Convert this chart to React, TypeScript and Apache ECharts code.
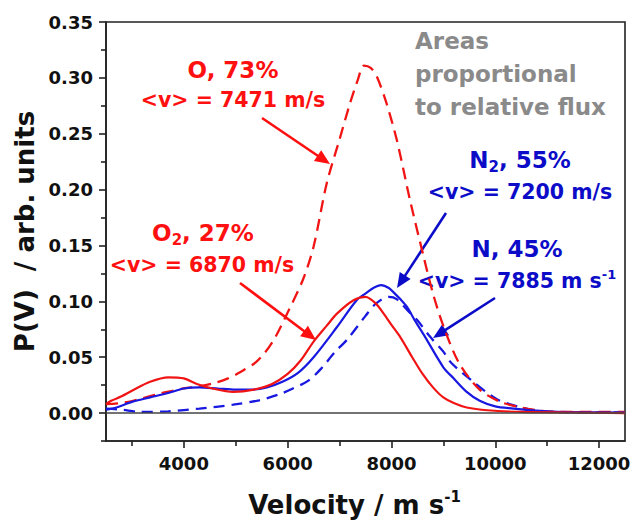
import React, { useEffect, useRef } from "react";
import * as echarts from "echarts";

// ---- data ----
const oVel = [2500, 2800, 3100, 3500, 3800, 4000, 4300, 4600, 4850, 5100, 5400, 5700, 6000, 6300, 6500, 6750, 7000, 7200, 7350, 7470, 7600, 7720, 7900, 8100, 8230, 8360, 8620, 8800, 9000, 9300, 9700, 10100, 10500, 10900, 11500, 12500];
const oVal = [0.008, 0.009, 0.012, 0.017, 0.02, 0.022, 0.024, 0.027, 0.031, 0.037, 0.046, 0.063, 0.09, 0.12, 0.149, 0.205, 0.245, 0.277, 0.298, 0.311, 0.309, 0.301, 0.278, 0.245, 0.218, 0.19, 0.14, 0.107, 0.078, 0.045, 0.021, 0.01, 0.005, 0.002, 0.001, 0.001];

const o2Vel = [2500, 2600, 2800, 3000, 3350, 3700, 4000, 4250, 4550, 4950, 5350, 5700, 6000, 6250, 6500, 6750, 6950, 7270, 7500, 7700, 7850, 8000, 8170, 8400, 8600, 8800, 9000, 9200, 9450, 9850, 10500, 11500, 12500];
const o2Val = [0.008, 0.011, 0.015, 0.02, 0.028, 0.032, 0.031, 0.026, 0.022, 0.019, 0.021, 0.026, 0.035, 0.047, 0.064, 0.078, 0.089, 0.101, 0.104, 0.098, 0.089, 0.079, 0.068, 0.05, 0.035, 0.023, 0.014, 0.009, 0.005, 0.0025, 0.001, 0.0005, 0];

const n2Vel = [2500, 2700, 3000, 3350, 3700, 4000, 4300, 4650, 5000, 5300, 5600, 5900, 6200, 6500, 6950, 7330, 7530, 7650, 7800, 7950, 8040, 8170, 8300, 8450, 8650, 9000, 9200, 9450, 9700, 10000, 10350, 10700, 11200, 12500];
const n2Val = [0.003, 0.005, 0.01, 0.014, 0.018, 0.022, 0.023, 0.022, 0.021, 0.021, 0.023, 0.028, 0.036, 0.05, 0.077, 0.101, 0.108, 0.112, 0.1145, 0.112, 0.108, 0.102, 0.095, 0.083, 0.068, 0.041, 0.031, 0.019, 0.011, 0.006, 0.004, 0.0024, 0.001, 0.0005];

const nVel = [2500, 2800, 3150, 3700, 4300, 4950, 5450, 5850, 6100, 6400, 6650, 6900, 7150, 7500, 7700, 7950, 8100, 8350, 8500, 8750, 9000, 9150, 9550, 10050, 10600, 11000, 12500];
const nVal = [0.004, 0.003, 0.001, 0.0015, 0.004, 0.0075, 0.0114, 0.017, 0.022, 0.029, 0.04, 0.054, 0.066, 0.087, 0.098, 0.104, 0.102, 0.09, 0.083, 0.068, 0.055, 0.045, 0.029, 0.012, 0.004, 0.001, 0.0005];

const xMajor = [4000, 6000, 8000, 10000, 12000];
const xMinor = [3000, 5000, 7000, 9000, 11000];
const yMajor = [0, 0.05, 0.1, 0.15, 0.2, 0.25, 0.3, 0.35];
const yMinor = [-0.025, 0.025, 0.075, 0.125, 0.175, 0.225, 0.275, 0.325];

const FONT = "'DejaVu Sans', 'Liberation Sans', Arial, sans-serif";
const RED_LINE = "#f01414";
const BLUE_LINE = "#1818e0";
const RED_TXT = "#ff1010";
const BLUE_TXT = "#0c0cc8";
const GRAY_TXT = "#8a8a8a";

const pairs = (xs: number[], ys: number[]) => xs.map((x, i) => [x, ys[i]]);

function arrow(x1: number, y1: number, x2: number, y2: number, color: string) {
  const dx = x2 - x1;
  const dy = y2 - y1;
  const len = Math.sqrt(dx * dx + dy * dy);
  const ux = dx / len;
  const uy = dy / len;
  const hl = 15;
  const hw = 6.5;
  const bx = x2 - ux * hl;
  const by = y2 - uy * hl;
  return [
    {
      type: "line",
      shape: { x1, y1, x2: bx + ux * 2, y2: by + uy * 2 },
      style: { stroke: color, lineWidth: 2.6 },
      silent: true,
    },
    {
      type: "polygon",
      shape: {
        points: [
          [x2, y2],
          [bx - uy * hw, by + ux * hw],
          [bx + uy * hw, by - ux * hw],
        ],
      },
      style: { fill: color },
      silent: true,
    },
  ];
}

function label(x: number, y: number, text: string, color: string, size: number, extra: any = {}) {
  return {
    type: "text",
    x,
    y,
    silent: true,
    style: {
      text,
      fill: color,
      fontSize: size,
      fontWeight: "bold",
      fontFamily: FONT,
      align: "center",
      verticalAlign: "middle",
      lineHeight: size + 6,
      rich: {
        sub: { fontSize: 15, fontWeight: "bold", fontFamily: FONT, fill: color, verticalAlign: "bottom", lineHeight: size + 6 },
        sup: { fontSize: 13, fontWeight: "bold", fontFamily: FONT, fill: color, verticalAlign: "top", lineHeight: size + 6 },
      },
      ...extra,
    },
  };
}

export default function App() {
  const ref = useRef<HTMLDivElement>(null);
  useEffect(() => {
    if (!ref.current) return;
    const chart = echarts.init(ref.current, null, { renderer: "svg" });
    const axisLineStyle = { color: "#222", width: 1.6 };
    const tickLabel = { fontSize: 18, fontWeight: "bold", fontFamily: FONT, color: "#111" };
    chart.setOption({
      animation: false,
      backgroundColor: "#fff",
      grid: {
        left: 106,
        right: 9,
        top: 22,
        bottom: 82,
        outerBoundsMode: "none",
        containLabel: false,
        show: true,
        borderColor: "#222",
        borderWidth: 1.6,
        backgroundColor: "transparent",
      },
      xAxis: [
        {
          type: "value",
          min: 2500,
          max: 12500,
          position: "bottom",
          axisLine: { show: true, onZero: false, lineStyle: axisLineStyle },
          axisTick: { show: true, length: 7, customValues: xMajor, lineStyle: { color: "#222", width: 1.6 } },
          axisLabel: { customValues: xMajor, margin: 13, formatter: (v: number) => String(v), ...tickLabel },
          splitLine: { show: false },
          name: "Velocity / m s{sup|-1}",
          nameLocation: "middle",
          nameGap: 48,
          nameTextStyle: {
            fontSize: 26,
            fontWeight: "bold",
            fontFamily: FONT,
            color: "#111",
            lineHeight: 32,
            padding: [0, 22, 0, 0],
            rich: { sup: { fontSize: 15, fontWeight: "bold", fontFamily: FONT, color: "#111", verticalAlign: "top", lineHeight: 32 } },
          },
        },
        {
          type: "value",
          min: 2500,
          max: 12500,
          position: "bottom",
          axisLine: { show: false, onZero: false },
          axisTick: { show: true, length: 5, customValues: xMinor, lineStyle: { color: "#222", width: 1.6 } },
          axisLabel: { show: false },
          splitLine: { show: false },
        },
      ],
      yAxis: [
        {
          type: "value",
          min: -0.025,
          max: 0.35,
          position: "left",
          axisLine: { show: true, onZero: false, lineStyle: axisLineStyle },
          axisTick: { show: true, length: 7, customValues: yMajor, lineStyle: { color: "#222", width: 1.6 } },
          axisLabel: { customValues: yMajor, margin: 13, formatter: (v: number) => v.toFixed(2), ...tickLabel },
          splitLine: { show: false },
          name: "P(V)  / arb. units",
          nameLocation: "middle",
          nameGap: 66,
          nameRotate: 90,
          nameTextStyle: { fontSize: 26, fontWeight: "bold", fontFamily: FONT, color: "#111" },
        },
        {
          type: "value",
          min: -0.025,
          max: 0.35,
          position: "left",
          axisLine: { show: false, onZero: false },
          axisTick: { show: true, length: 5, customValues: yMinor, lineStyle: { color: "#222", width: 1.6 } },
          axisLabel: { show: false },
          splitLine: { show: false },
        },
      ],
      series: [
        {
          name: "N",
          type: "line",
          data: pairs(nVel, nVal),
          smooth: 0.3,
          showSymbol: false,
          lineStyle: { color: BLUE_LINE, width: 2.3, type: [11, 7] },
          markLine: {
            silent: true,
            symbol: "none",
            label: { show: false },
            lineStyle: { color: "#444", width: 1.5, type: "solid" },
            data: [{ yAxis: 0 }],
          },
        },
        {
          name: "O",
          type: "line",
          data: pairs(oVel, oVal),
          smooth: 0.3,
          showSymbol: false,
          lineStyle: { color: RED_LINE, width: 2.3, type: [12, 7] },
        },
        {
          name: "N2",
          type: "line",
          data: pairs(n2Vel, n2Val),
          smooth: 0.3,
          showSymbol: false,
          lineStyle: { color: BLUE_LINE, width: 2.2 },
        },
        {
          name: "O2",
          type: "line",
          data: pairs(o2Vel, o2Val),
          smooth: 0.3,
          showSymbol: false,
          lineStyle: { color: RED_LINE, width: 2.2 },
        },
      ],
      graphic: [
        label(233, 70, "O, 73%", RED_TXT, 23),
        label(233, 100, "<v> = 7471 m/s", RED_TXT, 20.5),
        ...arrow(262, 118, 330, 164, RED_TXT),
        label(203, 233, "O{sub|2}, 27%", RED_TXT, 23),
        label(202, 265, "<v> = 6870 m/s", RED_TXT, 20.5),
        ...arrow(240, 283, 316, 340, RED_TXT),
        label(415, 74, "Areas\nproportional\nto relative flux", GRAY_TXT, 23, { align: "left", lineHeight: 33 }),
        label(520, 160, "N{sub|2}, 55%", BLUE_TXT, 23),
        label(520, 192, "<v> = 7200 m/s", BLUE_TXT, 20.5),
        ...arrow(446, 213, 397, 288, BLUE_TXT),
        label(517, 249, "N, 45%", BLUE_TXT, 23),
        label(517, 281, "<v> = 7885 m s{sup|-1}", BLUE_TXT, 20.5),
        ...arrow(495, 298, 433, 338, BLUE_TXT),
      ],
    });
    return () => chart.dispose();
  }, []);
  return <div ref={ref} style={{ position: "absolute", left: 0, top: 0, width: 634, height: 523 }} />;
}
